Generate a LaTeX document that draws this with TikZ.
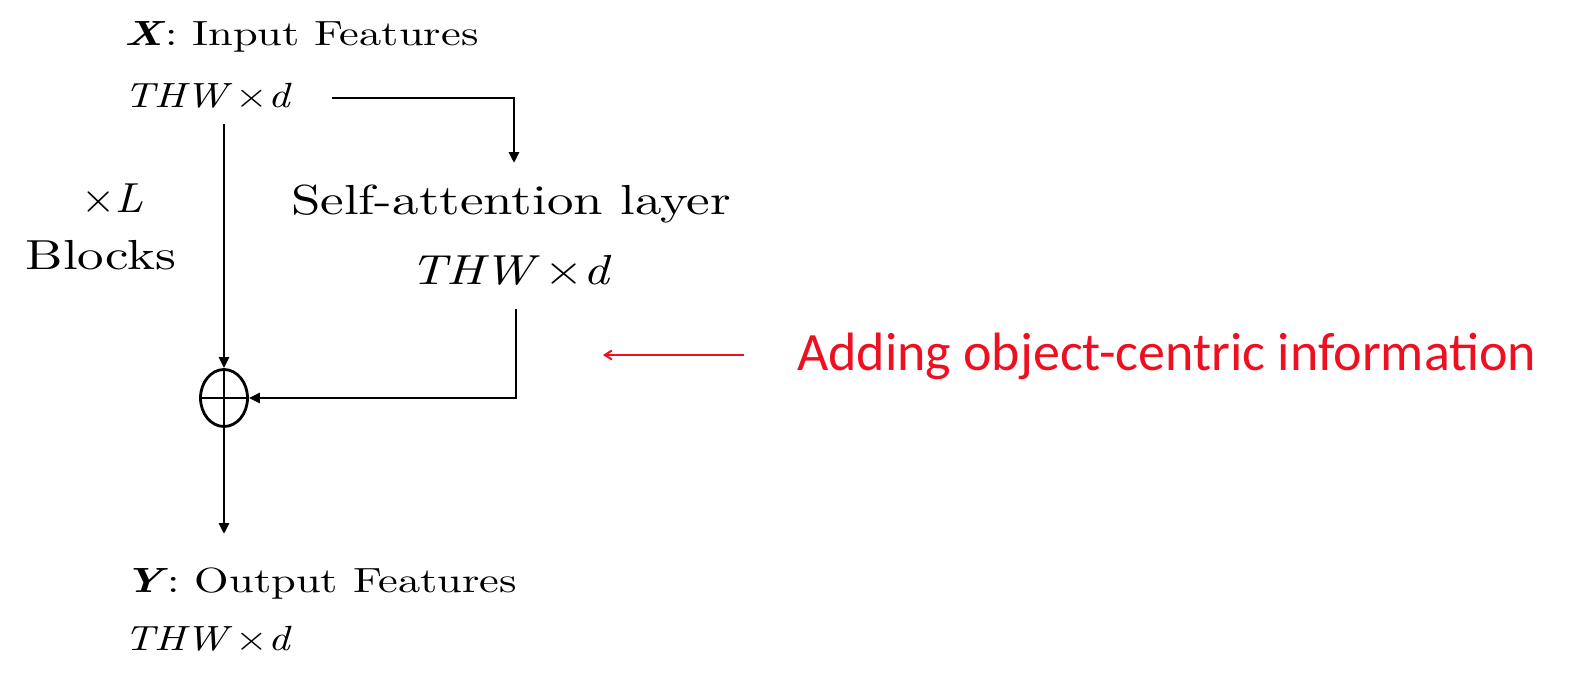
\documentclass[tikz,border=0pt]{standalone}
\usepackage{fontspec}
\usepackage{graphicx}
\setmainfont{lmroman10-regular.otf}[ItalicFont=lmroman10-italic.otf,BoldFont=lmroman10-bold.otf,BoldItalicFont=lmroman10-bolditalic.otf]
\newfontfamily\redfont{Carlito}
\definecolor{redish}{RGB}{238,16,32}
\usetikzlibrary{arrows.meta,shapes.geometric}
\newcommand{\sxtext}[1]{\scalebox{1.27}[1]{#1}}
\newcommand{\sxbig}[1]{\scalebox{1.26}[1]{#1}}
\newcommand{\sxmath}[1]{\scalebox{1.2}[1]{#1}}
\newcommand{\dimtext}{\textit{THW}\kern0.08em×\textit{d}}
\begin{document}
\begin{tikzpicture}[x=1pt,y=-1pt,
  lbl/.style={inner sep=0pt,outer sep=0pt,font=\fontsize{35}{40}\selectfont},
  big/.style={inner sep=0pt,outer sep=0pt,font=\fontsize{42}{48}\selectfont},
  conn/.style={line width=2.8pt,-{Triangle[length=11pt,width=10pt]}},
  redarrow/.style={line width=2pt,redish,-{Straight Barb[length=7pt,width=9pt]}}]
\useasboundingbox (0,0) rectangle (1588,688);
% texts
\node[lbl,anchor=west] (xin) at (124,37) {\sxtext{\textbf{\textit{X}}: Input Features}};
\node[lbl,anchor=west] (xdim) at (124,96) {\sxmath{\dimtext}};
\node[big] (sa) at (511,204) {\sxbig{Self-attention layer}};
\node[big] (sadim) at (511,270) {\sxmath{\dimtext}};
\node[big] (xl) at (112,198) {\scalebox{1.05}[1]{×\textit{L}}};
\node[big] (blk) at (101,255) {\sxbig{Blocks}};
\node[lbl,anchor=west] (yout) at (124,584) {\sxtext{\textbf{\textit{Y}}: Output Features}};
\node[lbl,anchor=west] (ydim) at (124,639) {\sxmath{\dimtext}};
\node[inner sep=0pt,anchor=west,text=redish,font=\redfont\fontsize{54}{60}\selectfont] (info) at (797,356) {Adding object-centric information};
% plus node
\node[draw,line width=2.8pt,ellipse,minimum width=47pt,minimum height=57pt,inner sep=0pt] (plus) at (224,398) {};
\draw[line width=2.8pt] (plus.north) -- (plus.south) (plus.west) -- (plus.east);
% coordinates
\coordinate (a0) at (332,98);
\coordinate (a1) at (514,98);
\coordinate (a2) at (514,163);
\coordinate (b0) at (224,124);
\coordinate (c0) at (516,309);
\coordinate (c1) at (516,398);
\coordinate (d1) at (224,534);
\coordinate (r0) at (744,355);
\coordinate (r1) at (603,355);
% connectors
\draw[conn] (a0) -- (a1) -- (a2);
\draw[conn] (b0) -- (plus.north);
\draw[conn] (c0) -- (c1) -- (plus.east);
\draw[conn] (plus.south) -- (d1);
\draw[redarrow] (r0) -- (r1);
\end{tikzpicture}
\end{document}
